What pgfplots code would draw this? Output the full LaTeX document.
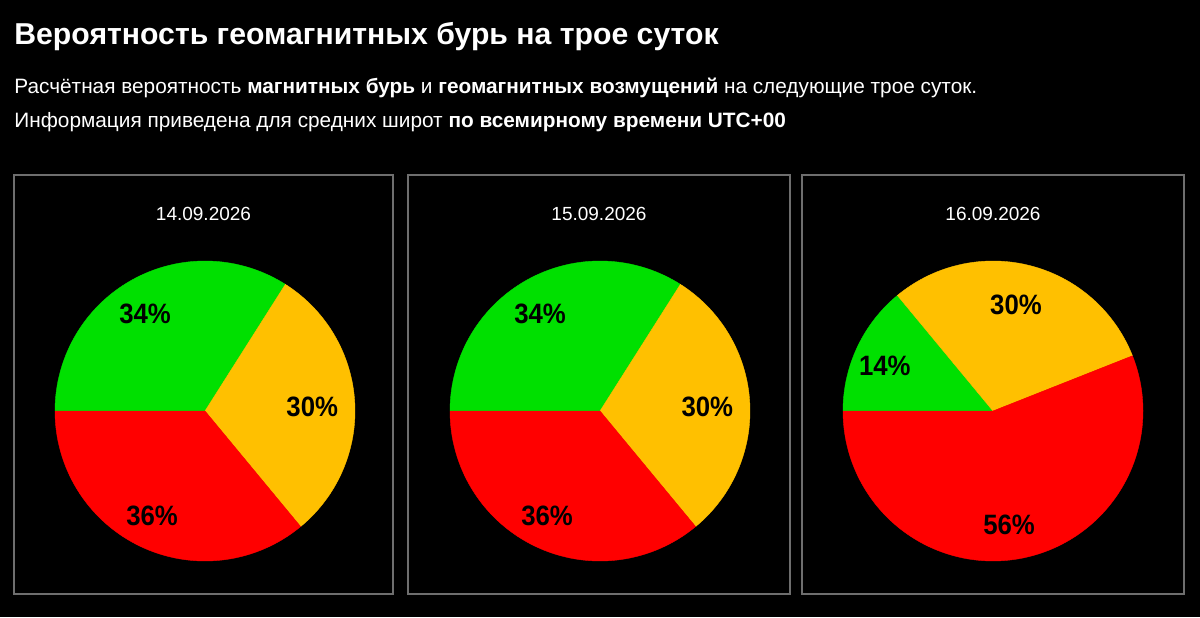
\documentclass[border=0pt]{standalone}
\usepackage{pgfplots}
\pgfplotsset{compat=1.18}
\usepackage{fontspec}
\setmainfont{Liberation Sans}
\newfontfamily\narrow[FakeStretch=0.92]{Liberation Sans Bold}

\definecolor{pgreen}{RGB}{0,224,0}
\definecolor{porange}{RGB}{255,192,0}
\definecolor{pred}{RGB}{255,0,0}
\definecolor{boxgray}{RGB}{110,110,110}

\tikzset{pct/.style={font={\narrow\fontsize{14}{16}\selectfont}, text=black,
  xshift=-2.5pt, yshift=-1.5pt}}

% #1 box left px, #2 box right px, #3 pie centre x px, #4 date, #5 green %, #6 orange %, #7 red %
\newcommand{\pie}[7]{%
  \draw[boxgray, line width=1pt] (#1,23) rectangle (#2,442);
  \node[white, anchor=base, font=\fontsize{9.5}{11}\selectfont] at ({(#1+#2)/2},396) {#4};
  \pgfmathsetmacro\aA{180-#5*3.6}
  \pgfmathsetmacro\aB{180-(#5+#6)*3.6}
  \pgfmathsetmacro\mG{180-#5*1.8}
  \pgfmathsetmacro\mO{180-(#5*3.6+#6*1.8)}
  \pgfmathsetmacro\mR{(\aB-180)/2}
  \begin{axis}[
    at={({#3*0.5pt},103pt)}, anchor=center,
    width=150pt, height=150pt, scale only axis,
    xmin=-1, xmax=1, ymin=-1, ymax=1,
    hide axis, clip=false,
  ]
    \addplot[fill=pgreen, draw=pgreen, line width=0.2pt, domain=\aA:180, samples=120]
      ({cos(x)},{sin(x)}) -- (axis cs:0,0) -- cycle;
    \addplot[fill=porange, draw=porange, line width=0.2pt, domain=\aB:\aA, samples=120]
      ({cos(x)},{sin(x)}) -- (axis cs:0,0) -- cycle;
    \addplot[fill=pred, draw=pred, line width=0.2pt, domain=-180:\aB, samples=160]
      ({cos(x)},{sin(x)}) -- (axis cs:0,0) -- cycle;
    \node[pct] at (axis cs:{0.76*cos(\mG)},{0.76*sin(\mG)}) {#5\%};
    \node[pct] at (axis cs:{0.75*cos(\mO)},{0.75*sin(\mO)}) {#6\%};
    \node[pct] at (axis cs:{0.75*cos(\mR)},{0.75*sin(\mR)}) {#7\%};
  \end{axis}
}

\begin{document}
\begin{tikzpicture}[x=0.5pt, y=0.5pt]
  \fill[black] (0,0) rectangle (1200,617);
  \node[white, anchor=base west, inner sep=0pt, font=\bfseries\fontsize{15.1}{18}\selectfont]
    at (14,572) {Вероятность геомагнитных бурь на трое суток};
  \node[white, anchor=base west, inner sep=0pt, font=\fontsize{10.4}{13}\selectfont]
    at (14,523) {Расчётная вероятность \textbf{магнитных бурь} и \textbf{геомагнитных возмущений} на следующие трое суток.};
  \node[white, anchor=base west, inner sep=0pt, font=\fontsize{10.4}{13}\selectfont]
    at (14,489) {Информация приведена для средних широт \textbf{по всемирному времени UTC+00}};

  \pie{14}{393}{205}{14.09.2026}{34}{30}{36}
  \pie{408}{790}{600}{15.09.2026}{34}{30}{36}
  \pie{802}{1184}{993}{16.09.2026}{14}{30}{56}
\end{tikzpicture}
\end{document}
